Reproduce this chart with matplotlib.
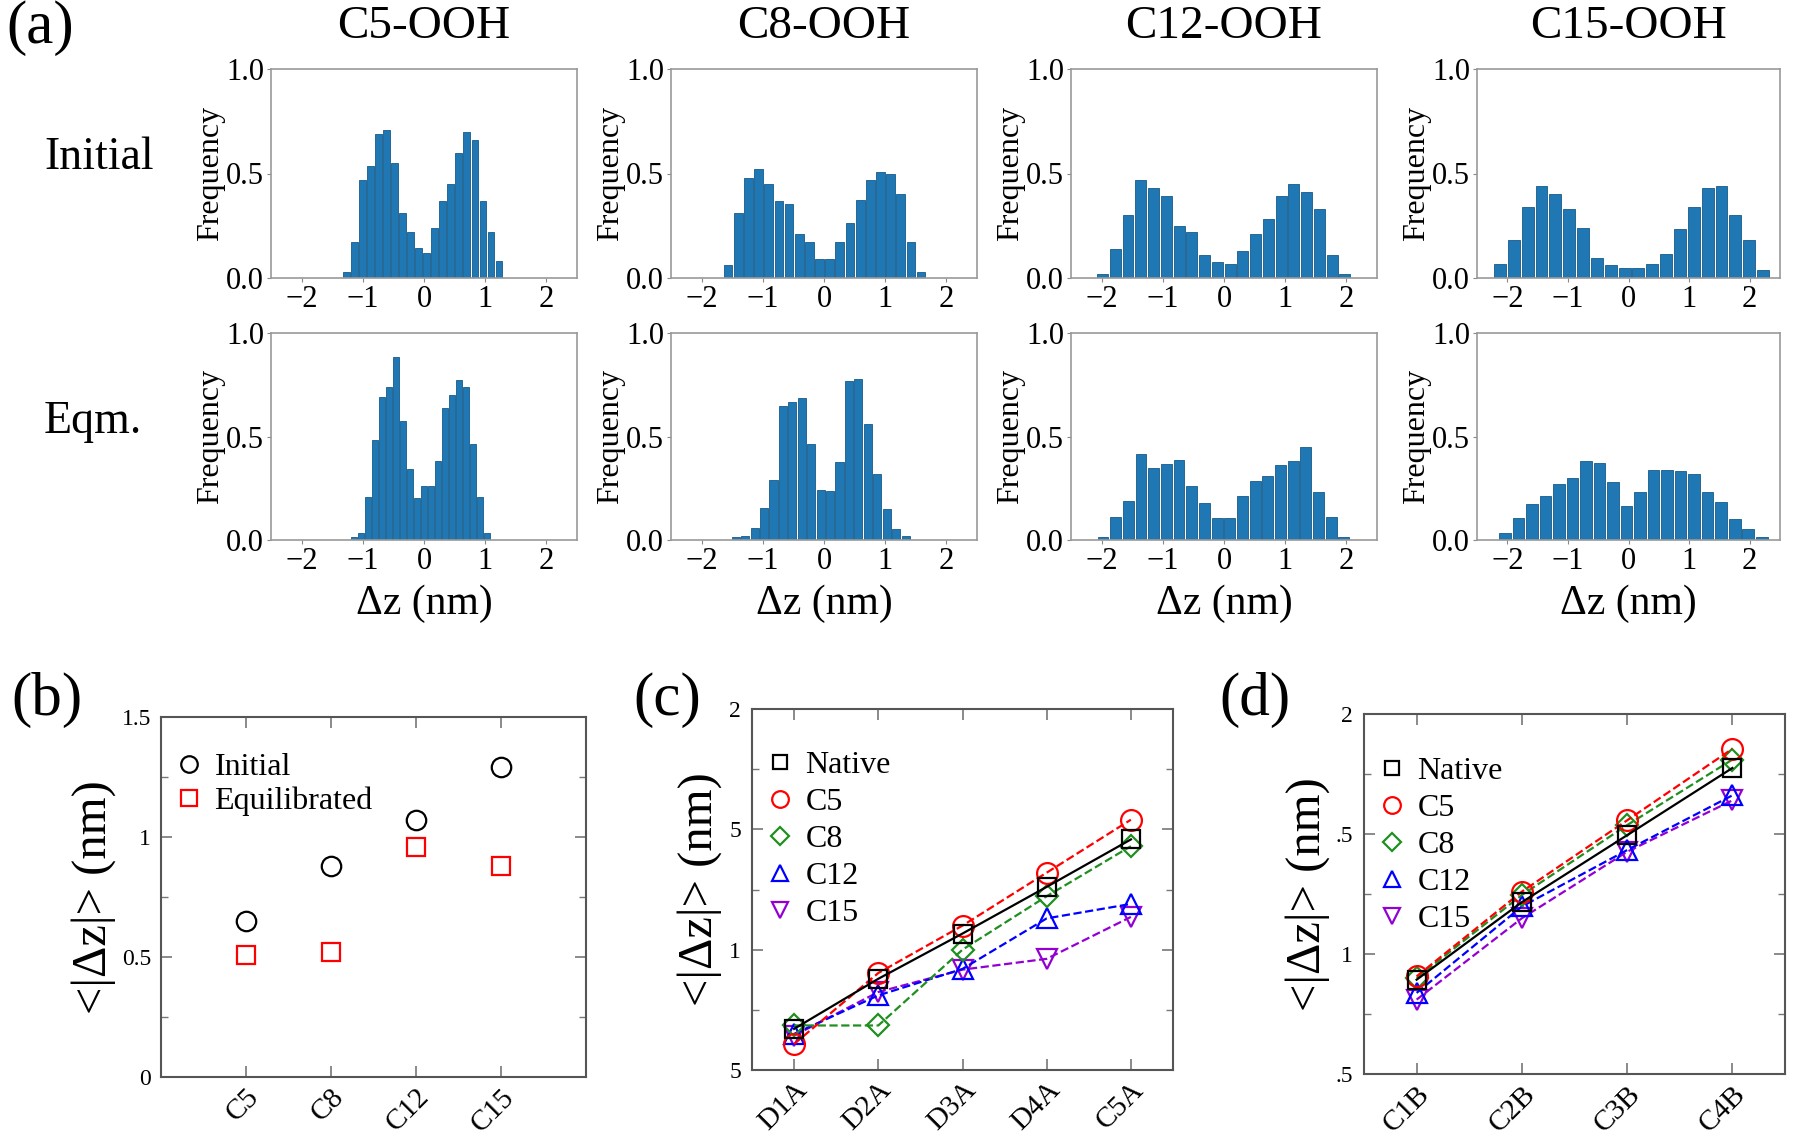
import numpy as np
import matplotlib
matplotlib.use("Agg")
import matplotlib.pyplot as plt
from matplotlib.ticker import MultipleLocator

plt.rcParams['font.family'] = ['Liberation Serif', 'DejaVu Serif']
plt.rcParams['mathtext.fontset'] = 'stix'

W, H = 1800, 1143

# ---- (a) histogram data: bin edge range and bar heights ----
COLUMNS = ["C5-OOH", "C8-OOH", "C12-OOH", "C15-OOH"]
ROWS = ["Initial", "Eqm."]

init_ranges = [(-1.325, 1.29), (-1.65, 1.67), (-2.09, 2.08), (-2.235, 2.335)]
init_c5 = [0.03, 0.17, 0.47, 0.535, 0.69, 0.71, 0.55, 0.31, 0.22, 0.145,
           0.12, 0.24, 0.37, 0.45, 0.60, 0.70, 0.66, 0.37, 0.22, 0.083]
init_c8 = [0.06, 0.31, 0.48, 0.52, 0.45, 0.37, 0.355, 0.21, 0.17, 0.09,
           0.09, 0.17, 0.265, 0.375, 0.47, 0.505, 0.50, 0.40, 0.17, 0.03]
init_c12 = [0.02, 0.14, 0.30, 0.47, 0.43, 0.39, 0.25, 0.22, 0.11, 0.075,
            0.065, 0.13, 0.21, 0.28, 0.39, 0.45, 0.41, 0.33, 0.11, 0.02]
init_c15 = [0.067, 0.18, 0.34, 0.44, 0.40, 0.33, 0.24, 0.096, 0.06, 0.048,
            0.048, 0.067, 0.115, 0.235, 0.34, 0.43, 0.44, 0.30, 0.18, 0.037]

eqm_ranges = [(-1.2, 1.09), (-1.52, 1.41), (-2.08, 2.06), (-2.15, 2.31)]
eqm_c5 = [0.013, 0.035, 0.21, 0.485, 0.69, 0.74, 0.885, 0.575, 0.345, 0.205,
          0.26, 0.26, 0.38, 0.64, 0.70, 0.775, 0.74, 0.465, 0.21, 0.035]
eqm_c8 = [0.013, 0.02, 0.056, 0.157, 0.29, 0.648, 0.667, 0.688, 0.466, 0.24,
          0.236, 0.375, 0.77, 0.78, 0.56, 0.32, 0.148, 0.053, 0.02]
eqm_c12 = [0.016, 0.11, 0.19, 0.415, 0.35, 0.367, 0.386, 0.26, 0.18, 0.108,
           0.108, 0.214, 0.285, 0.31, 0.36, 0.38, 0.45, 0.233, 0.113, 0.016]
eqm_c15 = [0.032, 0.105, 0.176, 0.211, 0.27, 0.30, 0.383, 0.37, 0.28, 0.163,
           0.23, 0.338, 0.338, 0.333, 0.32, 0.23, 0.184, 0.10, 0.052, 0.016]

# ---- (b) ----
b_labels = ["C5", "C8", "C12", "C15"]
b_initial = [0.65, 0.88, 1.07, 1.29]
b_equil = [0.51, 0.52, 0.96, 0.88]

# ---- (c) ----
c_labels = ["D1A", "D2A", "D3A", "D4A", "C5A"]
c_native = [0.671, 0.879, 1.067, 1.261, 1.458]
c_c5 = [0.608, 0.903, 1.10, 1.32, 1.54]
c_c8 = [0.685, 0.685, 1.0, 1.222, 1.43]
c_c12 = [0.65, 0.81, 0.92, 1.13, 1.19]
c_c15 = [0.643, 0.824, 0.917, 0.962, 1.136]

# ---- (d) ----
d_labels = ["C1B", "C2B", "C3B", "C4B"]
d_native = [0.893, 1.216, 1.495, 1.775]
d_c5 = [0.907, 1.26, 1.557, 1.855]
d_c8 = [0.90, 1.246, 1.537, 1.81]
d_c12 = [0.838, 1.198, 1.433, 1.661]
d_c15 = [0.81, 1.149, 1.426, 1.64]

SERIES = ["Native", "C5", "C8", "C12", "C15"]
COLORS = ["black", "#ff0000", "#1f8f1f", "#0000ff", "#9400d3"]
MARKERS = ["s", "o", "D", "^", "v"]
MSIZES = [13, 15, 11, 14, 14]


def px_axes(fig, x0, y0, x1, y1):
    return fig.add_axes([x0 / W, 1 - y1 / H, (x1 - x0) / W, (y1 - y0) / H])


fig = plt.figure(figsize=(W / 100, H / 100), dpi=100)

hist_boxes_x = [(271, 577), (671, 977), (1071, 1377), (1477, 1780)]
hist_boxes_y = [(69, 278), (333, 540)]
hist_data = [[init_c5, init_c8, init_c12, init_c15],
             [eqm_c5, eqm_c8, eqm_c12, eqm_c15]]
hist_ranges = [init_ranges, eqm_ranges]

for r in range(2):
    for c in range(4):
        x0, x1 = hist_boxes_x[c]
        y0, y1 = hist_boxes_y[r]
        ax = px_axes(fig, x0, y0, x1, y1)
        h = hist_data[r][c]
        lo, hi = hist_ranges[r][c]
        edges = np.linspace(lo, hi, len(h) + 1)
        centers = 0.5 * (edges[:-1] + edges[1:])
        bw = edges[1] - edges[0]
        ax.bar(centers, h, width=bw * 0.86, color="#1f77b4",
               edgecolor="#155a8a", linewidth=0.6)
        ax.set_xlim(-2.5, 2.5)
        ax.set_ylim(0, 1.0)
        ax.set_xticks([-2, -1, 0, 1, 2])
        ax.set_xticklabels(["\u22122", "\u22121", "0", "1", "2"])
        ax.set_yticks([0, 0.5, 1.0])
        ax.set_yticklabels(["0.0", "0.5", "1.0"])
        ax.tick_params(labelsize=22, length=3, color="#888888", pad=2)
        for s in ax.spines.values():
            s.set_color("#999999")
            s.set_linewidth(1.2)
        ax.set_ylabel("Frequency", fontsize=23, labelpad=1)
        if r == 0:
            ax.set_title(COLUMNS[c], fontsize=34, pad=22)
        else:
            ax.set_xlabel("\u0394z (nm)", fontsize=30, labelpad=6)

fig.text(6 / W, 1 - 28 / H, "(a)", fontsize=44, va="center", ha="left")
fig.text(44 / W, 1 - 158 / H, ROWS[0], fontsize=33, va="center", ha="left")
fig.text(44 / W, 1 - 422 / H, ROWS[1], fontsize=33, va="center", ha="left")


def style_lower(ax, ypad, lpad):
    ax.tick_params(which="both", direction="in", top=True, right=True,
                   color="#777777")
    ax.tick_params(which="major", length=8, width=1.2)
    ax.tick_params(which="minor", length=5, width=1.0)
    ax.tick_params(axis="y", labelsize=17, pad=ypad)
    ax.tick_params(axis="x", labelsize=21, pad=5)
    ax.yaxis.set_minor_locator(MultipleLocator(0.25))
    for s in ax.spines.values():
        s.set_color("#555555")
        s.set_linewidth(1.5)
    ax.set_ylabel("<|\u0394z|> (nm)", fontsize=35, labelpad=lpad)
    for lab in ax.get_xticklabels():
        lab.set_rotation(45)
        lab.set_ha("right")
        lab.set_rotation_mode("anchor")


# ---- (b) ----
axb = px_axes(fig, 161, 717, 586, 1077)
xb = np.arange(1, len(b_labels) + 1)
axb.plot(xb, b_initial, ls="none", marker="o", ms=14, mfc="none",
         mec="black", mew=1.6, label="Initial")
axb.plot(xb, b_equil, ls="none", marker="s", ms=13, mfc="none",
         mec="#ff0000", mew=1.6, label="Equilibrated")
axb.set_xlim(0, len(b_labels) + 1)
axb.set_ylim(0, 1.5)
axb.set_xticks(xb)
axb.set_xticklabels(b_labels)
axb.set_yticks([0, 0.5, 1.0, 1.5])
axb.set_yticklabels(["0", "0.5", "1", "1.5"])
style_lower(axb, 7, 4)
axb.legend(loc="upper left", bbox_to_anchor=(-0.032, 0.972), frameon=False,
           fontsize=23, handletextpad=0.3, labelspacing=0.14,
           markerscale=0.85, handlelength=1.0, borderaxespad=0.4)
fig.text(11 / W, 1 - 700 / H, "(b)", fontsize=44, va="center", ha="left")


def line_panel(ax, labels, ys, xlim, ticklabels, anchor_y, lpad):
    x = np.arange(1, len(labels) + 1)
    for i, y in enumerate(ys):
        ax.plot(x, y, ls="-" if i == 0 else "--", lw=1.6, color=COLORS[i],
                marker=MARKERS[i], ms=MSIZES[i], mfc="none", mec=COLORS[i],
                mew=1.6, label=SERIES[i], zorder=5 - i if i else 6)
    ax.set_xlim(*xlim)
    ax.set_ylim(0.5, 2.0)
    ax.set_xticks(x)
    ax.set_xticklabels(labels)
    ax.set_yticks([0.5, 1.0, 1.5, 2.0])
    ax.set_yticklabels(ticklabels)
    style_lower(ax, 8, lpad)
    leg = ax.legend(loc="upper left", bbox_to_anchor=(-0.032, anchor_y),
                    frameon=False, fontsize=23, handletextpad=0.3,
                    labelspacing=0.24, markerscale=0.8, handlelength=1.0,
                    borderaxespad=0.4)
    for hnd in leg.legend_handles:
        hnd.set_linestyle("none")


# ---- (c) ----
axc = px_axes(fig, 752, 709, 1173, 1070)
line_panel(axc, c_labels, [c_native, c_c5, c_c8, c_c12, c_c15],
           (0.5, len(c_labels) + 0.5), ["5", "1", "5", "2"], 0.955, 5)
fig.text(633 / W, 1 - 700 / H, "(c)", fontsize=44, va="center", ha="left")

# ---- (d) ----
axd = px_axes(fig, 1364, 714, 1785, 1074)
line_panel(axd, d_labels, [d_native, d_c5, d_c8, d_c12, d_c15],
           (0.5, len(d_labels) + 0.5), [".5", "1", ".5", "2"], 0.952, 4)
fig.text(1219 / W, 1 - 700 / H, "(d)", fontsize=44, va="center", ha="left")

fig.savefig("out.png", dpi=100)
